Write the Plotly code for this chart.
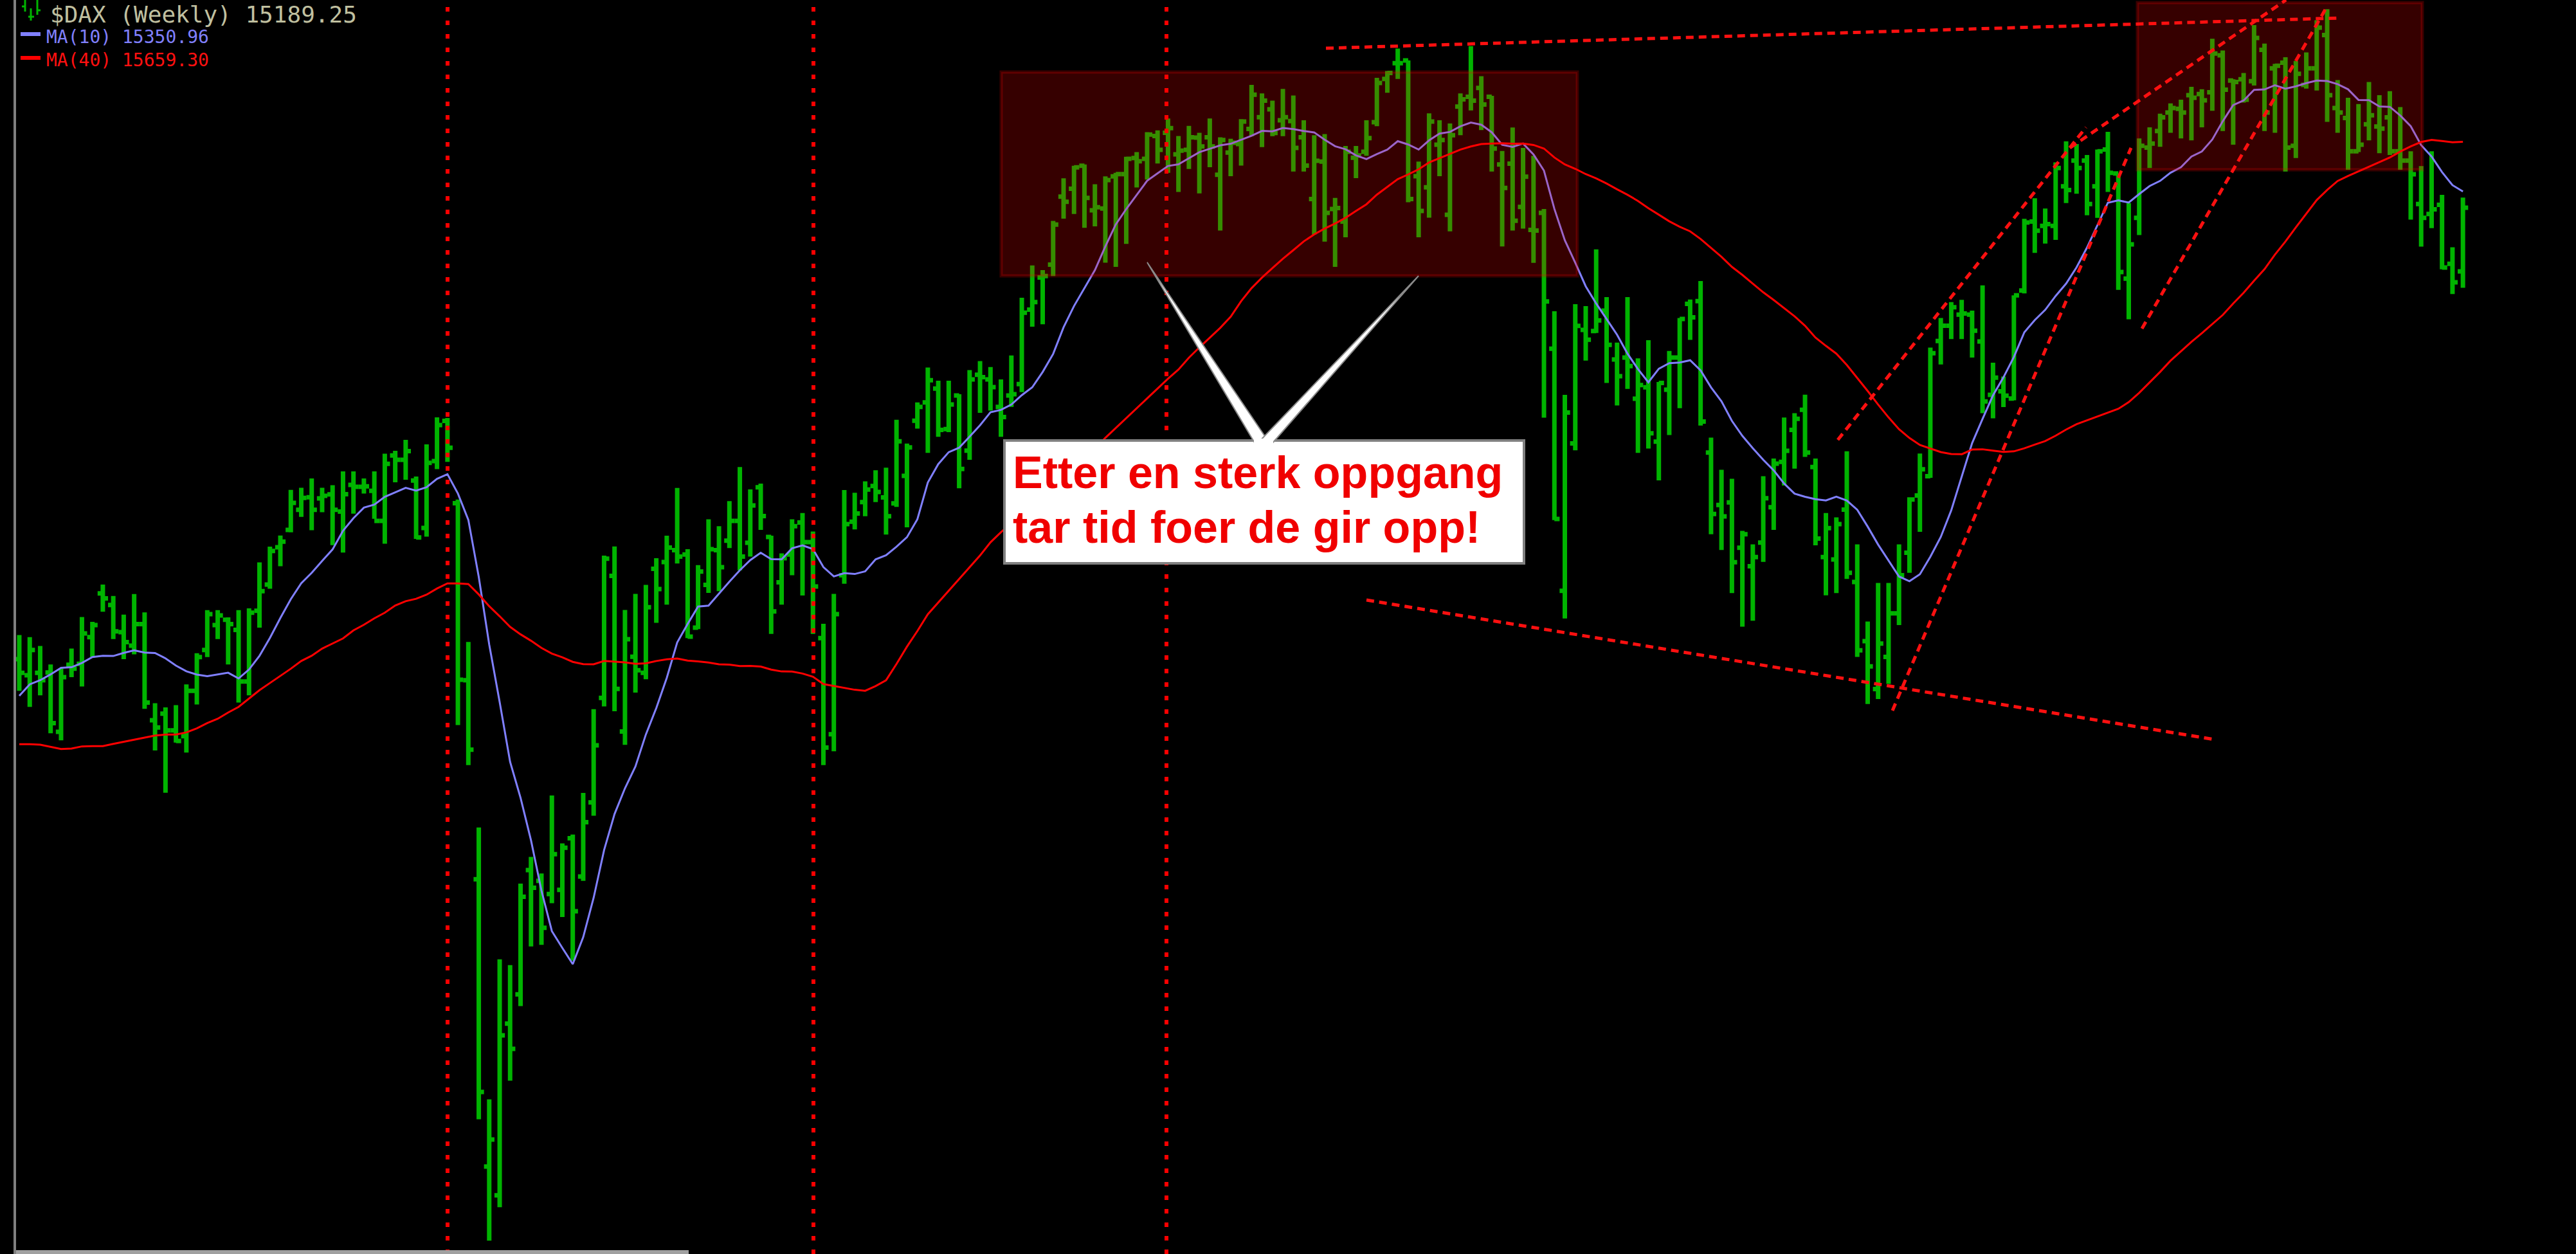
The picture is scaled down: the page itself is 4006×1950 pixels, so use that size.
import plotly.graph_objects as go

W, H = 4006, 1950
# pixel <-> axis mapping of the picture (bar spacing and price scale)
X0, DX = 30.0, 16.24
P0, K = 16583.0, 4.314


def xd(px):
    return (px - X0) / DX


def yd(py):
    return P0 - K * py


def xp(px):
    return px / W


def yp(py):
    return 1 - py / H


# ---------------- data (weekly bars) ----------------
opens = [12161, 12053, 12069, 12072, 11674, 12123, 12130, 12309, 12602, 12525,
         12342, 12252, 12396, 11751, 11795, 11683, 11645, 11949, 12223, 12390,
         12425, 12357, 12011, 12486, 12662, 12912, 13028, 13163, 13247, 13240,
         13267, 13151, 13330, 13317, 13290, 13089, 13528, 13498, 13359, 13041,
         13490, 13760, 13207, 12020, 10685, 8757, 8564, 9716, 9912, 10746,
         10674, 10585, 10613, 10960, 10703, 11200, 11901, 12720, 11676, 12177,
         12069, 12767, 12813, 12892, 12863, 12373, 12659, 12892, 12956, 13089,
         12942, 13314, 12981, 12677, 12863, 13078, 12946, 12302, 11658, 12724,
         13083, 13215, 13323, 13246, 13206, 13391, 13761, 13884, 13976, 13705,
         13930, 13560, 14069, 14038, 13853, 13930, 14007, 14506, 14722, 14808,
         15264, 15317, 15471, 15172, 15184, 15400, 15415, 15523, 15517, 15671,
         15692, 15548, 15578, 15660, 15662, 15411, 15559, 15617, 15718, 15797,
         15850, 15776, 15771, 15662, 15248, 15499, 15181, 15097, 15525, 15565,
         15763, 16053, 16159, 16178, 15401, 15327, 15612, 15142, 15868, 15934,
         15993, 15934, 15480, 15485, 15195, 15041, 15155, 14244, 12619, 13609,
         14370, 14362, 14499, 14172, 14184, 13908, 13985, 13620, 13969, 14184,
         14545, 14563, 13547, 13195, 13213, 12909, 12785, 12943, 13180, 13484,
         13699, 13834, 13450, 12846, 12830, 13164, 12679, 12282, 11961, 12176,
         12469, 12875, 13259, 13389, 14296, 14398, 14472, 14472, 14292, 13934,
         13958, 13909, 14634, 15097, 15068, 15068, 15333, 15506, 15506, 15333,
         15580, 15419, 14714, 15122, 15593, 15704, 15828, 15853, 15944, 15952,
         15964, 16212, 16043, 16051, 16038, 16249, 16125, 16162, 15605, 16014,
         16125, 16348, 15858, 15791, 15568, 15749, 15734, 15796, 15568, 15506,
         15214, 15147, 15209, 14813, 14763]

highs = [12323, 12309, 12250, 12126, 12098, 12232, 12444, 12411, 12662, 12585,
         12460, 12598, 12475, 11866, 11838, 11853, 11992, 12201, 12490, 12490,
         12442, 12490, 12502, 12810, 12916, 12991, 13297, 13311, 13373, 13311,
         13328, 13421, 13421, 13373, 13421, 13540, 13559, 13632, 13386, 13602,
         13783, 13779, 13232, 12277, 11032, 9208, 10148, 10109, 10656, 10835,
         10724, 11247, 10925, 10985, 11264, 11826, 12856, 12917, 12491, 12599,
         12659, 12838, 12989, 13310, 12899, 12792, 13099, 13053, 13221, 13450,
         13300, 13339, 12989, 12871, 13099, 13142, 13017, 12398, 12599, 13296,
         13277, 13354, 13428, 13446, 13767, 13607, 13884, 14118, 14029, 14029,
         13939, 14100, 14161, 14121, 14038, 14198, 14586, 14802, 14771, 15101,
         15387, 15471, 15480, 15347, 15400, 15424, 15532, 15563, 15696, 15708,
         15788, 15671, 15739, 15692, 15788, 15662, 15652, 15784, 16014, 15956,
         15908, 15987, 15942, 15776, 15676, 15683, 15255, 15604, 15604, 15776,
         16061, 16106, 16257, 16178, 15499, 15823, 15776, 15755, 15956, 16273,
         16072, 15940, 15570, 15728, 15591, 15538, 15181, 14495, 13934, 14542,
         14529, 14910, 14590, 14285, 14590, 14179, 14301, 14021, 14229, 14450,
         14574, 14698, 13647, 13432, 13371, 13022, 12931, 13389, 13507, 13782,
         13811, 13935, 13507, 13141, 13112, 13556, 12931, 12413, 12672, 12672,
         12931, 13247, 13541, 14251, 14450, 14556, 14572, 14499, 14669, 14150,
         14057, 14602, 15115, 15253, 15184, 15494, 15635, 15617, 15543, 15580,
         15699, 15419, 15221, 15654, 15729, 15820, 15890, 15914, 16001, 15984,
         16323, 16244, 16051, 16093, 16415, 16291, 16155, 16199, 16174, 16231,
         16447, 16521, 16046, 15927, 15885, 16033, 15944, 15971, 15865, 15568,
         15469, 15568, 15276, 14924, 15258]

lows = [11949, 11841, 11918, 11664, 11616, 12040, 11978, 12175, 12479, 12296,
        12161, 12194, 11828, 11549, 11265, 11601, 11535, 11857, 12175, 12296,
        12126, 11870, 11918, 12373, 12633, 12785, 13012, 13116, 13026, 13147,
        12926, 12876, 13137, 13272, 13103, 12935, 13347, 13365, 12968, 12983,
        13436, 13484, 11719, 11450, 9075, 8260, 8485, 9333, 9834, 10234,
        10245, 10524, 10431, 10138, 10674, 11111, 11844, 11812, 11586, 11937,
        12026, 12405, 12527, 12803, 12302, 12363, 12606, 12617, 12906, 12756,
        12849, 13028, 12330, 12527, 12724, 12588, 12330, 11450, 11543, 12667,
        13031, 13120, 13215, 12997, 13182, 13046, 13708, 13545, 13653, 13684,
        13308, 13499, 13813, 13828, 13653, 13853, 13952, 14392, 14408, 14731,
        15116, 15147, 15055, 15064, 14821, 14793, 14947, 15326, 15378, 15486,
        15424, 15295, 15449, 15286, 15461, 15036, 15401, 15472, 15670, 15596,
        15670, 15670, 15432, 15432, 15010, 14962, 14793, 14991, 15388, 15538,
        15736, 15961, 16053, 15226, 14991, 15123, 15401, 15031, 15676, 15842,
        15710, 15432, 14930, 15036, 15049, 14820, 13781, 13094, 12434, 13562,
        14164, 14349, 14014, 13863, 13974, 13545, 13574, 13360, 13665, 13845,
        14303, 13728, 12999, 12893, 12604, 12379, 12419, 12814, 13028, 13326,
        13439, 13518, 12925, 12589, 12604, 12699, 12176, 11860, 11894, 11995,
        12390, 12740, 13015, 13378, 14138, 14308, 14308, 14184, 13811, 13777,
        13852, 13897, 14615, 14887, 14949, 14974, 15221, 15283, 15139, 15122,
        15295, 14639, 14441, 15006, 15456, 15598, 15692, 15654, 15642, 15729,
        15840, 15704, 15612, 15895, 16009, 15704, 15692, 15432, 15523, 15989,
        15976, 15766, 15692, 15444, 15563, 15642, 15555, 15543, 15444, 15110,
        14929, 15053, 14776, 14610, 14652]

closes = [12069, 12223, 12020, 11732, 12040, 12098, 12334, 12390, 12569, 12348,
          12275, 12396, 11870, 11703, 11683, 11612, 11949, 12175, 12463, 12454,
          12396, 12011, 12473, 12617, 12887, 12949, 13209, 13243, 13163, 13257,
          13163, 13268, 13317, 13321, 13089, 13471, 13498, 13557, 12978, 13478,
          13731, 13579, 12023, 11554, 9258, 8939, 9637, 9547, 10567, 10628,
          10359, 10853, 10896, 10470, 11068, 11583, 12835, 11962, 12295, 12087,
          12509, 12631, 12910, 12849, 12312, 12749, 12899, 12778, 13089, 12849,
          13192, 13121, 12481, 12838, 13053, 12946, 12649, 11568, 12463, 13067,
          13138, 13299, 13283, 13120, 13622, 13582, 13853, 14032, 13699, 13869,
          13437, 14038, 14053, 13986, 13785, 13939, 14485, 14556, 14731, 15076,
          15230, 15460, 15255, 15193, 15375, 15415, 15517, 15501, 15680, 15578,
          15723, 15572, 15662, 15600, 15600, 15644, 15625, 15768, 15948, 15908,
          15691, 15797, 15591, 15472, 15504, 15155, 15187, 15565, 15540, 15657,
          16027, 16093, 16159, 15248, 15168, 15768, 15644, 15676, 15916, 15908,
          15882, 15586, 15322, 15102, 15398, 15036, 14561, 13102, 13816, 14397,
          14304, 14434, 14270, 14059, 14127, 14000, 13676, 14014, 14184, 14443,
          14454, 13755, 13135, 13119, 12812, 12999, 12846, 13241, 13473, 13559,
          13773, 13547, 12970, 13040, 13067, 12740, 12221, 12113, 12266, 12469,
          12724, 13232, 13435, 14213, 14398, 14522, 14480, 14364, 13890, 14050,
          13929, 14602, 15090, 15035, 15080, 15456, 15308, 15456, 15214, 15568,
          15424, 14758, 14944, 15605, 15620, 15796, 15858, 15828, 15927, 15910,
          16224, 15981, 16033, 15914, 16328, 15828, 16142, 15593, 16088, 16125,
          16397, 15944, 15828, 15568, 15612, 15810, 15720, 15568, 15506, 15414,
          15122, 15179, 14788, 14689, 15189.25]

# moving-average values visible before the first full window
ma10_head = [11915, 11992, 12020, 12059, 12103, 12107, 12136, 12175, 12184]
ma40_head = [11591, 11591, 11587, 11572, 11558, 11562, 11576, 11578, 11578, 11593,
             11606, 11622, 11635, 11649, 11655, 11655, 11670, 11697, 11732, 11761,
             11803, 11841, 11895, 11953, 12001, 12049, 12097, 12149, 12184, 12232,
             12265, 12300, 12354, 12392, 12435, 12473, 12521, 12550, 12566]

title_text = "$DAX (Weekly) 15189.25"
ma10_label = "MA(10) 15350.96"
ma40_label = "MA(40) 15659.30"
note_lines = ["Etter en sterk oppgang", "tar tid foer de gir opp!"]


def rolling(vals, w, head):
    out = list(head)
    for i in range(len(head), len(vals)):
        out.append(sum(vals[i - w + 1:i + 1]) / w)
    return out


x = list(range(len(closes)))
ma10 = rolling(closes, 10, ma10_head)
ma40 = rolling(closes, 40, ma40_head)

GREEN = "#00b400"
MA10_C = "#8080ff"
MA40_C = "#ff0000"

fig = go.Figure()
fig.add_trace(go.Ohlc(
    x=x, open=opens, high=highs, low=lows, close=closes,
    line=dict(width=7), tickwidth=0.5,
    increasing=dict(line=dict(color=GREEN, width=7)),
    decreasing=dict(line=dict(color=GREEN, width=7)),
    hoverinfo="skip", showlegend=False))
fig.add_trace(go.Scatter(x=x, y=ma10, mode="lines",
                         line=dict(color=MA10_C, width=3), hoverinfo="skip",
                         showlegend=False))
fig.add_trace(go.Scatter(x=x, y=ma40, mode="lines",
                         line=dict(color=MA40_C, width=3), hoverinfo="skip",
                         showlegend=False))

shapes = []


def dline(p0, p1, color, width, dash="solid"):
    shapes.append(dict(type="line", xref="x", yref="y",
                       x0=xd(p0[0]), y0=yd(p0[1]), x1=xd(p1[0]), y1=yd(p1[1]),
                       line=dict(color=color, width=width, dash=dash)))


def pline(p0, p1, color, width):
    shapes.append(dict(type="line", xref="paper", yref="paper",
                       x0=xp(p0[0]), y0=yp(p0[1]), x1=xp(p1[0]), y1=yp(p1[1]),
                       line=dict(color=color, width=width)))


# highlighted zones
for (a, b, c, d) in [(1557, 112, 2453, 429), (3324, 4, 3767, 264)]:
    shapes.append(dict(type="rect", xref="x", yref="y",
                       x0=xd(a), x1=xd(c), y0=yd(d), y1=yd(b),
                       fillcolor="rgba(255,0,0,0.21)",
                       line=dict(color="rgba(255,0,0,0.22)", width=5)))

# vertical dotted event lines
for px in [696, 1265, 1814]:
    shapes.append(dict(type="line", xref="x", yref="paper",
                       x0=xd(px), x1=xd(px), y0=0, y1=1,
                       line=dict(color="#ff0000", width=6, dash="7px,14px")))

# dashed trend lines
TL = "#ff1010"
for p0, p1 in [((2062, 75), (3638, 28)),
               ((2125, 933), (3444, 1150)),
               ((2858, 684), (3244, 198)),
               ((2943, 1105), (3314, 230)),
               ((3219, 230), (3555, 0)),
               ((3331, 511), (3620, 8))]:
    dline(p0, p1, TL, 5, "12px,8px")

# note box
shapes.append(dict(type="rect", xref="x", yref="y",
                   x0=xd(1562), x1=xd(2370), y0=yd(876), y1=yd(685),
                   fillcolor="#ffffff", line=dict(color="#808080", width=4)))


def path(pts):
    s = "M %f,%f" % (xd(pts[0][0]), yd(pts[0][1]))
    for p in pts[1:]:
        s += " L %f,%f" % (xd(p[0]), yd(p[1]))
    return s


# callout pointer arms
for pts in [[(1952, 690), (1784, 408), (1975, 690)],
            [(1955, 690), (2206, 429), (1978, 690)]]:
    shapes.append(dict(type="path", xref="x", yref="y", path=path(pts),
                       fillcolor="#ffffff",
                       line=dict(color="#8a8a8a", width=2)))
shapes.append(dict(type="rect", xref="x", yref="y",
                   x0=xd(1950), x1=xd(1980), y0=yd(694), y1=yd(682),
                   fillcolor="#ffffff", line=dict(width=0)))

# frame
pline((23, 0), (23, 1950), "#808080", 4)
shapes.append(dict(type="rect", xref="paper", yref="paper",
                   x0=xp(25), x1=xp(1071), y0=yp(1950), y1=yp(1944),
                   fillcolor="#a0a0a0", line=dict(width=0)))

# legend markers
pline((32, 53), (63, 53), MA10_C, 6)
pline((32, 90), (63, 90), MA40_C, 6)
pline((39, 0), (39, 18), GREEN, 3)
pline((34, 10), (39, 10), GREEN, 3)
pline((48, 13), (48, 32), GREEN, 3)
pline((44, 26), (53, 26), GREEN, 3)
pline((58, 0), (58, 23), GREEN, 3)
pline((58, 16), (63, 16), GREEN, 3)

annotations = [
    dict(text=title_text, x=xp(76), y=yp(0), xref="paper", yref="paper",
         xanchor="left", yanchor="top", showarrow=False,
         font=dict(family="DejaVu Sans Mono", size=36, color="#c0c0a0")),
    dict(text=ma10_label, x=xp(70), y=yp(57), xref="paper", yref="paper",
         xanchor="left", yanchor="middle", showarrow=False,
         font=dict(family="DejaVu Sans Mono", size=28, color=MA10_C)),
    dict(text=ma40_label, x=xp(70), y=yp(93), xref="paper", yref="paper",
         xanchor="left", yanchor="middle", showarrow=False,
         font=dict(family="DejaVu Sans Mono", size=28, color="#ff1010")),
]
for line_text, cy in zip(note_lines, [735, 820]):
    annotations.append(dict(text="<b>%s</b>" % line_text, x=xp(1573), y=yp(cy),
                            xref="paper", yref="paper", xanchor="left",
                            yanchor="middle", showarrow=False,
                            font=dict(family="Liberation Sans, Arial, sans-serif",
                                      size=70, color="#f00000")))

fig.update_layout(
    width=W, height=H, margin=dict(l=0, r=0, t=0, b=0, pad=0),
    paper_bgcolor="#000000", plot_bgcolor="#000000",
    showlegend=False, shapes=shapes, annotations=annotations,
    xaxis=dict(range=[xd(0), xd(W)], visible=False, showgrid=False,
               zeroline=False, rangeslider=dict(visible=False)),
    yaxis=dict(range=[yd(H), yd(0)], visible=False, showgrid=False,
               zeroline=False),
)

fig.write_html("out.html", config={"displayModeBar": False},
               post_script="document.body.style.margin='0';"
                           "document.body.style.overflow='hidden';")
